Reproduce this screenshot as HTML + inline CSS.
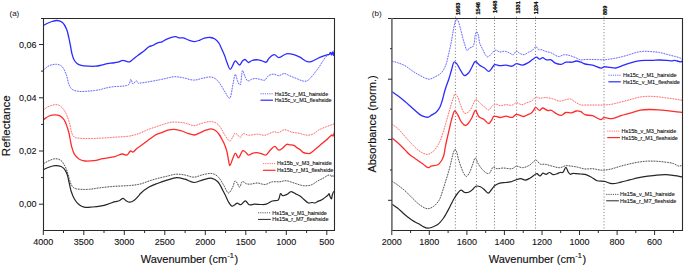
<!DOCTYPE html>
<html><head><meta charset="utf-8"><style>
html,body{margin:0;padding:0;background:#fff;}
body{width:685px;height:267px;overflow:hidden;}
svg{display:block;font-family:"Liberation Sans",sans-serif;}
.tk{font-size:9.35px;fill:#111;stroke:#111;stroke-width:0.1px;}
.ti{font-size:11px;fill:#111;stroke:#111;stroke-width:0.15px;}
.pl{font-size:8px;fill:#111;}
.lg{font-size:5.5px;fill:#111;stroke:#111;stroke-width:0.12px;}
.pk{font-size:5.6px;font-weight:bold;fill:#000;stroke:#000;stroke-width:0.2px;}
</style></head><body>
<svg width="685" height="267" viewBox="0 0 685 267">
<clipPath id="cl"><rect x="43" y="18" width="292" height="213"/></clipPath>
<clipPath id="cr"><rect x="392" y="18" width="291" height="213"/></clipPath>
<g clip-path="url(#cl)">
<path d="M43.50,70.00 C45.33,68.60 46.90,66.75 49.00,65.80 C51.21,64.80 54.25,64.13 56.50,64.30 C58.41,64.45 60.22,64.92 61.70,66.20 C63.63,67.87 64.97,71.50 66.20,74.50 C67.52,77.73 67.95,82.32 69.20,85.00 C70.08,86.87 70.76,88.35 72.20,89.40 C73.85,90.61 76.39,91.08 78.90,91.40 C81.98,91.79 85.91,91.28 89.40,91.00 C92.91,90.72 97.20,90.25 99.90,89.70 C101.63,89.35 102.45,88.90 104.10,88.50 C106.39,87.94 109.40,87.21 112.40,86.80 C115.88,86.32 120.78,86.54 123.80,86.00 C125.86,85.63 127.72,85.59 128.90,84.50 C130.11,83.38 130.20,79.32 130.90,79.30 C131.57,79.28 132.06,83.82 133.00,84.00 C133.89,84.17 135.36,80.74 136.30,80.80 C137.08,80.85 137.57,83.00 138.30,83.30 C138.83,83.52 139.23,83.20 140.00,83.10 C141.60,82.89 144.64,82.46 147.40,82.00 C150.94,81.41 155.95,80.50 159.50,79.80 C162.30,79.25 164.51,78.72 167.00,78.20 C169.47,77.69 171.80,76.80 174.40,76.70 C177.24,76.59 180.30,77.27 183.40,77.80 C186.78,78.38 190.53,80.09 193.90,80.10 C197.01,80.11 200.02,78.73 202.90,78.20 C205.53,77.71 208.29,76.81 210.50,77.00 C212.28,77.15 213.72,77.64 215.20,78.60 C217.00,79.77 218.63,81.90 220.20,84.00 C222.03,86.43 223.61,89.97 225.30,92.50 C226.74,94.66 228.44,98.54 229.60,98.30 C231.23,97.97 231.89,88.74 232.90,84.50 C233.76,80.87 234.40,74.44 235.30,74.40 C236.09,74.36 236.91,80.10 237.90,82.00 C238.58,83.29 239.47,85.15 240.10,85.00 C241.35,84.71 241.54,70.61 242.60,70.50 C243.30,70.43 244.08,74.68 245.00,76.50 C245.83,78.15 246.64,80.64 247.80,81.00 C248.77,81.30 250.02,79.91 251.20,79.50 C252.42,79.08 253.67,78.57 255.00,78.50 C256.43,78.43 257.95,78.93 259.50,79.20 C261.17,79.49 263.24,80.73 264.70,80.20 C266.23,79.65 266.87,76.70 268.40,75.70 C269.89,74.73 271.94,74.20 273.70,74.20 C275.44,74.20 277.18,75.80 278.90,75.70 C280.68,75.60 282.44,73.49 284.20,73.50 C285.94,73.51 287.50,74.92 289.40,75.70 C291.67,76.63 294.54,77.77 296.90,78.70 C299.01,79.53 301.11,80.67 302.90,81.00 C304.26,81.25 305.43,81.41 306.60,81.00 C307.94,80.53 309.14,79.22 310.40,78.00 C311.91,76.54 313.44,74.55 314.90,72.70 C316.41,70.79 317.92,68.72 319.30,66.70 C320.65,64.72 321.79,62.55 323.10,60.70 C324.30,59.00 325.37,57.22 326.80,56.00 C328.13,54.87 329.95,53.98 331.30,53.50 C332.28,53.15 333.10,53.17 334.00,53.00" fill="none" stroke="#6c6cff" stroke-width="1.00" stroke-opacity="0.25" stroke-linejoin="round"/><path d="M43.50,70.00 C45.33,68.60 46.90,66.75 49.00,65.80 C51.21,64.80 54.25,64.13 56.50,64.30 C58.41,64.45 60.22,64.92 61.70,66.20 C63.63,67.87 64.97,71.50 66.20,74.50 C67.52,77.73 67.95,82.32 69.20,85.00 C70.08,86.87 70.76,88.35 72.20,89.40 C73.85,90.61 76.39,91.08 78.90,91.40 C81.98,91.79 85.91,91.28 89.40,91.00 C92.91,90.72 97.20,90.25 99.90,89.70 C101.63,89.35 102.45,88.90 104.10,88.50 C106.39,87.94 109.40,87.21 112.40,86.80 C115.88,86.32 120.78,86.54 123.80,86.00 C125.86,85.63 127.72,85.59 128.90,84.50 C130.11,83.38 130.20,79.32 130.90,79.30 C131.57,79.28 132.06,83.82 133.00,84.00 C133.89,84.17 135.36,80.74 136.30,80.80 C137.08,80.85 137.57,83.00 138.30,83.30 C138.83,83.52 139.23,83.20 140.00,83.10 C141.60,82.89 144.64,82.46 147.40,82.00 C150.94,81.41 155.95,80.50 159.50,79.80 C162.30,79.25 164.51,78.72 167.00,78.20 C169.47,77.69 171.80,76.80 174.40,76.70 C177.24,76.59 180.30,77.27 183.40,77.80 C186.78,78.38 190.53,80.09 193.90,80.10 C197.01,80.11 200.02,78.73 202.90,78.20 C205.53,77.71 208.29,76.81 210.50,77.00 C212.28,77.15 213.72,77.64 215.20,78.60 C217.00,79.77 218.63,81.90 220.20,84.00 C222.03,86.43 223.61,89.97 225.30,92.50 C226.74,94.66 228.44,98.54 229.60,98.30 C231.23,97.97 231.89,88.74 232.90,84.50 C233.76,80.87 234.40,74.44 235.30,74.40 C236.09,74.36 236.91,80.10 237.90,82.00 C238.58,83.29 239.47,85.15 240.10,85.00 C241.35,84.71 241.54,70.61 242.60,70.50 C243.30,70.43 244.08,74.68 245.00,76.50 C245.83,78.15 246.64,80.64 247.80,81.00 C248.77,81.30 250.02,79.91 251.20,79.50 C252.42,79.08 253.67,78.57 255.00,78.50 C256.43,78.43 257.95,78.93 259.50,79.20 C261.17,79.49 263.24,80.73 264.70,80.20 C266.23,79.65 266.87,76.70 268.40,75.70 C269.89,74.73 271.94,74.20 273.70,74.20 C275.44,74.20 277.18,75.80 278.90,75.70 C280.68,75.60 282.44,73.49 284.20,73.50 C285.94,73.51 287.50,74.92 289.40,75.70 C291.67,76.63 294.54,77.77 296.90,78.70 C299.01,79.53 301.11,80.67 302.90,81.00 C304.26,81.25 305.43,81.41 306.60,81.00 C307.94,80.53 309.14,79.22 310.40,78.00 C311.91,76.54 313.44,74.55 314.90,72.70 C316.41,70.79 317.92,68.72 319.30,66.70 C320.65,64.72 321.79,62.55 323.10,60.70 C324.30,59.00 325.37,57.22 326.80,56.00 C328.13,54.87 329.95,53.98 331.30,53.50 C332.28,53.15 333.10,53.17 334.00,53.00" fill="none" stroke="#6c6cff" stroke-width="1.00" stroke-dasharray="1.5 1.2" stroke-linejoin="round"/>
<path d="M43.70,25.30 C44.80,24.70 45.77,24.08 47.00,23.50 C48.48,22.81 50.29,22.00 52.00,21.50 C53.69,21.00 55.48,20.35 57.20,20.50 C58.98,20.65 61.01,21.27 62.50,22.50 C64.25,23.95 65.56,26.76 66.60,29.20 C67.69,31.77 68.15,34.80 68.80,37.60 C69.45,40.37 69.97,43.19 70.50,45.90 C71.00,48.49 71.28,51.11 71.90,53.50 C72.47,55.72 73.03,58.06 74.00,59.80 C74.81,61.26 75.80,62.47 77.00,63.40 C78.20,64.33 79.52,64.93 81.20,65.40 C83.44,66.02 86.88,66.08 89.40,66.20 C91.55,66.30 93.54,66.34 95.40,66.20 C97.04,66.08 98.29,65.84 100.00,65.50 C102.18,65.07 105.22,64.13 107.40,63.70 C109.11,63.36 110.36,63.23 112.00,63.00 C113.87,62.73 116.15,62.67 118.00,62.20 C119.69,61.77 121.20,60.48 122.70,60.40 C124.02,60.33 125.30,61.16 126.50,61.40 C127.55,61.61 128.51,62.05 129.50,61.80 C130.68,61.51 131.74,60.26 133.00,59.30 C134.56,58.12 136.30,56.58 138.10,55.20 C140.05,53.71 142.40,52.19 144.30,50.70 C146.00,49.36 147.44,47.57 149.00,46.70 C150.24,46.01 151.49,46.04 152.70,45.50 C153.99,44.93 155.05,43.92 156.50,43.30 C158.23,42.57 160.79,42.36 162.50,41.60 C163.93,40.97 164.93,39.94 166.20,39.30 C167.43,38.68 168.57,38.21 170.00,37.80 C171.73,37.30 174.28,36.56 175.90,36.70 C177.08,36.80 177.78,37.59 178.90,37.80 C180.23,38.05 181.83,37.57 183.40,37.90 C185.29,38.30 187.45,39.77 189.40,40.40 C191.17,40.97 192.86,41.64 194.60,41.60 C196.36,41.56 198.22,40.69 199.90,40.10 C201.48,39.55 202.76,38.63 204.40,38.20 C206.23,37.72 208.56,37.31 210.40,37.50 C212.03,37.67 213.56,38.17 214.90,39.00 C216.31,39.87 217.53,41.22 218.60,42.70 C219.81,44.38 220.62,46.63 221.60,48.70 C222.63,50.88 223.70,53.19 224.60,55.50 C225.50,57.82 226.06,60.29 227.00,62.60 C227.93,64.89 229.12,69.23 230.20,69.30 C231.09,69.36 232.04,66.51 232.90,65.10 C233.74,63.71 234.27,61.05 235.30,60.90 C236.45,60.73 238.36,65.11 239.60,65.00 C240.73,64.90 241.47,61.95 242.50,61.00 C243.29,60.27 244.12,59.43 245.00,59.50 C246.10,59.59 247.29,62.39 248.50,62.50 C249.63,62.61 250.62,60.95 252.00,60.50 C253.69,59.95 256.16,59.67 258.00,59.80 C259.62,59.92 261.08,60.58 262.50,61.00 C263.80,61.38 265.14,62.55 266.20,62.20 C267.43,61.80 267.92,59.21 269.20,58.00 C270.60,56.68 272.74,54.68 274.40,54.70 C275.96,54.72 277.18,57.61 278.90,57.70 C281.05,57.82 283.83,54.27 286.40,53.80 C288.83,53.36 291.58,54.09 293.90,54.70 C296.05,55.27 297.83,56.15 299.90,57.20 C302.30,58.41 305.14,61.18 307.40,61.70 C309.02,62.07 310.26,61.75 311.90,61.30 C314.11,60.69 316.80,58.79 319.30,57.70 C321.77,56.62 325.02,55.26 326.80,54.80 C327.73,54.56 328.39,54.86 329.00,54.50 C329.64,54.12 330.09,52.45 330.50,52.50 C330.93,52.56 331.18,55.01 331.50,55.00 C331.85,54.99 332.18,51.99 332.50,52.00 C332.85,52.01 333.20,55.52 333.50,55.50 C333.88,55.48 334.17,51.83 334.50,50.00" fill="none" stroke="#2b2bff" stroke-width="1.30" stroke-linejoin="round" stroke-linecap="round"/>
<path d="M43.50,110.00 C44.83,109.00 45.87,107.83 47.50,107.00 C49.54,105.96 52.80,104.83 55.00,104.70 C56.68,104.60 58.10,104.77 59.50,105.50 C61.15,106.36 62.70,108.18 64.00,110.00 C65.49,112.08 66.69,114.96 67.70,117.50 C68.68,119.96 69.40,122.63 70.00,125.00 C70.53,127.10 70.67,129.16 71.20,131.00 C71.67,132.63 72.08,134.34 72.90,135.50 C73.59,136.47 74.50,137.25 75.50,137.70 C76.50,138.15 77.60,138.07 78.90,138.20 C80.61,138.37 82.45,138.46 84.90,138.50 C88.77,138.56 94.90,138.42 99.90,138.20 C104.90,137.98 109.91,137.57 114.90,137.20 C119.88,136.83 125.34,136.79 129.80,136.00 C133.56,135.34 136.90,134.34 140.00,133.20 C142.74,132.19 144.97,130.71 147.50,129.70 C149.97,128.71 152.50,128.05 155.00,127.20 C157.50,126.35 159.88,125.41 162.50,124.60 C165.33,123.73 168.40,122.56 171.40,122.20 C174.37,121.84 177.71,122.15 180.40,122.40 C182.61,122.61 184.31,122.91 186.40,123.40 C188.78,123.96 191.40,125.70 193.90,125.70 C196.40,125.70 198.77,124.06 201.40,123.40 C204.25,122.68 207.72,121.53 210.40,121.60 C212.58,121.66 214.59,122.09 216.30,123.10 C218.08,124.15 219.47,126.08 220.80,127.90 C222.23,129.85 223.05,132.37 224.50,134.50 C226.03,136.74 228.30,141.03 229.80,141.00 C230.96,140.98 231.91,138.34 232.80,137.00 C233.63,135.74 234.07,133.42 235.00,133.20 C235.84,133.00 237.11,134.46 238.00,135.20 C238.83,135.90 239.43,137.54 240.20,137.50 C241.15,137.46 241.88,134.13 243.20,133.70 C244.61,133.24 246.48,135.03 248.50,135.20 C251.09,135.41 254.65,134.17 257.50,134.20 C260.09,134.23 262.35,135.49 264.90,135.20 C267.79,134.87 271.39,132.01 273.90,131.80 C275.63,131.66 276.83,132.91 278.40,132.70 C280.30,132.45 282.25,129.85 284.40,129.70 C286.73,129.53 289.37,131.60 291.90,132.20 C294.37,132.79 296.91,132.80 299.40,133.30 C301.91,133.80 304.54,135.11 306.90,135.20 C308.98,135.28 310.91,134.98 312.80,134.20 C314.89,133.34 316.62,131.23 318.80,130.00 C321.10,128.70 323.76,127.70 326.30,126.70 C328.83,125.70 331.43,124.90 334.00,124.00" fill="none" stroke="#ff7272" stroke-width="1.00" stroke-opacity="0.25" stroke-linejoin="round"/><path d="M43.50,110.00 C44.83,109.00 45.87,107.83 47.50,107.00 C49.54,105.96 52.80,104.83 55.00,104.70 C56.68,104.60 58.10,104.77 59.50,105.50 C61.15,106.36 62.70,108.18 64.00,110.00 C65.49,112.08 66.69,114.96 67.70,117.50 C68.68,119.96 69.40,122.63 70.00,125.00 C70.53,127.10 70.67,129.16 71.20,131.00 C71.67,132.63 72.08,134.34 72.90,135.50 C73.59,136.47 74.50,137.25 75.50,137.70 C76.50,138.15 77.60,138.07 78.90,138.20 C80.61,138.37 82.45,138.46 84.90,138.50 C88.77,138.56 94.90,138.42 99.90,138.20 C104.90,137.98 109.91,137.57 114.90,137.20 C119.88,136.83 125.34,136.79 129.80,136.00 C133.56,135.34 136.90,134.34 140.00,133.20 C142.74,132.19 144.97,130.71 147.50,129.70 C149.97,128.71 152.50,128.05 155.00,127.20 C157.50,126.35 159.88,125.41 162.50,124.60 C165.33,123.73 168.40,122.56 171.40,122.20 C174.37,121.84 177.71,122.15 180.40,122.40 C182.61,122.61 184.31,122.91 186.40,123.40 C188.78,123.96 191.40,125.70 193.90,125.70 C196.40,125.70 198.77,124.06 201.40,123.40 C204.25,122.68 207.72,121.53 210.40,121.60 C212.58,121.66 214.59,122.09 216.30,123.10 C218.08,124.15 219.47,126.08 220.80,127.90 C222.23,129.85 223.05,132.37 224.50,134.50 C226.03,136.74 228.30,141.03 229.80,141.00 C230.96,140.98 231.91,138.34 232.80,137.00 C233.63,135.74 234.07,133.42 235.00,133.20 C235.84,133.00 237.11,134.46 238.00,135.20 C238.83,135.90 239.43,137.54 240.20,137.50 C241.15,137.46 241.88,134.13 243.20,133.70 C244.61,133.24 246.48,135.03 248.50,135.20 C251.09,135.41 254.65,134.17 257.50,134.20 C260.09,134.23 262.35,135.49 264.90,135.20 C267.79,134.87 271.39,132.01 273.90,131.80 C275.63,131.66 276.83,132.91 278.40,132.70 C280.30,132.45 282.25,129.85 284.40,129.70 C286.73,129.53 289.37,131.60 291.90,132.20 C294.37,132.79 296.91,132.80 299.40,133.30 C301.91,133.80 304.54,135.11 306.90,135.20 C308.98,135.28 310.91,134.98 312.80,134.20 C314.89,133.34 316.62,131.23 318.80,130.00 C321.10,128.70 323.76,127.70 326.30,126.70 C328.83,125.70 331.43,124.90 334.00,124.00" fill="none" stroke="#ff7272" stroke-width="1.00" stroke-dasharray="1.5 1.2" stroke-linejoin="round"/>
<path d="M43.50,119.70 C45.33,118.47 47.04,116.82 49.00,116.00 C50.88,115.22 53.14,114.80 55.00,114.80 C56.61,114.80 58.09,115.00 59.50,115.70 C61.12,116.50 62.78,118.04 64.00,119.70 C65.34,121.53 66.14,124.07 67.00,126.40 C67.89,128.82 68.65,131.66 69.20,134.00 C69.66,135.97 69.83,137.56 70.20,139.50 C70.62,141.69 70.94,144.14 71.60,146.50 C72.31,149.03 73.08,152.05 74.40,154.20 C75.59,156.13 77.13,157.86 78.90,159.00 C80.64,160.11 82.67,160.68 84.90,161.00 C87.57,161.39 90.92,161.08 93.90,160.70 C96.92,160.32 99.68,159.34 102.90,158.70 C106.61,157.96 111.41,157.51 114.90,156.60 C117.70,155.87 120.12,154.11 122.30,154.00 C123.97,153.92 125.47,155.50 126.80,155.10 C128.27,154.66 129.44,151.19 130.60,151.00 C131.38,150.87 132.01,152.30 132.80,152.20 C133.94,152.06 135.34,149.72 136.60,148.70 C137.74,147.78 138.79,147.17 140.00,146.30 C141.40,145.29 142.90,144.19 144.50,143.00 C146.36,141.62 148.49,139.96 150.50,138.50 C152.49,137.06 154.42,135.35 156.50,134.30 C158.43,133.33 160.58,133.01 162.50,132.30 C164.31,131.64 165.82,130.70 167.70,130.20 C169.76,129.65 172.11,129.20 174.40,129.30 C176.84,129.41 179.55,130.28 181.90,131.00 C184.07,131.67 185.91,132.74 188.00,133.40 C190.11,134.07 192.46,135.15 194.50,135.00 C196.41,134.86 198.06,133.57 199.90,132.80 C201.85,131.98 203.95,130.88 205.90,130.20 C207.67,129.58 209.45,128.71 211.10,128.80 C212.64,128.88 214.17,129.58 215.50,130.50 C217.01,131.54 218.39,133.44 219.50,135.00 C220.53,136.45 221.22,138.07 222.00,139.50 C222.71,140.79 223.33,141.69 224.00,143.20 C224.97,145.39 226.15,148.69 226.90,151.50 C227.65,154.29 227.97,157.47 228.50,160.00 C228.93,162.07 229.17,165.55 229.80,165.60 C230.53,165.66 231.81,160.68 232.80,158.50 C233.67,156.59 234.43,153.27 235.40,153.20 C236.34,153.14 237.41,157.83 238.50,157.80 C239.82,157.76 241.32,151.20 242.70,150.70 C243.44,150.44 244.12,151.01 244.90,151.50 C246.07,152.23 247.37,155.00 248.70,155.20 C249.88,155.38 251.07,153.72 252.40,153.30 C253.79,152.86 255.41,152.64 256.90,152.70 C258.41,152.76 259.91,153.32 261.40,153.70 C262.91,154.08 264.51,155.40 265.90,155.00 C267.56,154.52 268.86,151.49 270.40,150.00 C271.83,148.62 273.39,146.25 274.80,146.30 C276.19,146.35 277.42,149.99 278.80,150.20 C279.99,150.38 281.28,149.16 282.50,148.30 C283.95,147.28 285.36,144.74 286.80,144.30 C287.87,143.97 288.87,144.64 290.00,144.80 C291.26,144.98 292.83,144.79 294.00,145.30 C295.15,145.80 295.97,147.09 297.00,147.80 C297.97,148.47 299.04,148.78 300.00,149.50 C301.05,150.29 301.83,151.75 303.00,152.40 C304.16,153.05 305.75,153.25 307.00,153.40 C308.06,153.53 309.05,153.71 310.00,153.40 C311.06,153.05 311.89,152.07 313.00,151.20 C314.47,150.04 316.43,148.33 318.00,147.00 C319.41,145.81 320.66,144.72 322.00,143.60 C323.33,142.49 324.69,141.46 326.00,140.30 C327.35,139.10 328.87,137.45 330.00,136.50 C330.76,135.86 331.46,134.96 332.00,135.00 C332.41,135.03 332.68,136.07 333.00,136.00 C333.55,135.88 334.00,133.33 334.50,132.00" fill="none" stroke="#ff2b2b" stroke-width="1.30" stroke-linejoin="round" stroke-linecap="round"/>
<path d="M43.50,163.70 C45.33,162.70 47.03,161.52 49.00,160.70 C51.08,159.83 53.60,158.66 55.70,158.70 C57.58,158.74 59.60,159.48 61.00,160.50 C62.33,161.46 63.10,163.05 64.00,164.50 C64.95,166.03 65.73,167.55 66.50,169.50 C67.50,172.03 68.32,175.75 69.20,178.50 C69.95,180.85 70.38,183.30 71.40,185.00 C72.22,186.36 73.08,187.48 74.40,188.20 C75.96,189.05 78.19,189.10 80.40,189.30 C83.09,189.54 86.29,189.52 89.40,189.30 C92.77,189.06 96.08,188.26 99.90,187.80 C104.45,187.25 109.90,186.68 114.90,186.30 C119.87,185.92 125.31,185.93 129.80,185.50 C133.53,185.14 136.74,184.88 140.00,184.10 C143.13,183.35 145.99,181.97 149.00,181.00 C151.99,180.04 154.99,179.10 158.00,178.30 C160.99,177.50 164.01,176.89 167.00,176.20 C169.97,175.52 172.91,174.40 175.90,174.20 C178.88,174.00 181.92,174.51 184.90,175.00 C187.92,175.50 190.91,177.25 193.90,177.20 C196.91,177.15 199.88,175.32 202.90,174.70 C205.88,174.09 209.28,173.05 211.90,173.50 C214.14,173.88 216.01,174.92 217.80,176.50 C220.08,178.52 221.95,182.53 223.80,185.40 C225.49,188.02 226.93,192.95 228.50,193.00 C229.93,193.05 231.70,189.08 232.80,187.00 C233.82,185.07 234.06,181.23 235.00,181.00 C235.64,180.84 236.52,182.14 237.20,183.00 C238.06,184.09 238.69,187.21 239.50,187.20 C240.44,187.19 241.22,181.86 242.50,181.50 C243.55,181.20 244.91,183.25 246.20,183.70 C247.42,184.12 248.52,184.22 250.00,184.20 C252.08,184.17 255.01,182.95 257.50,183.00 C259.98,183.05 262.45,184.68 264.90,184.50 C267.42,184.32 269.86,182.24 272.40,181.80 C274.86,181.37 277.55,182.01 279.90,181.80 C282.02,181.61 283.71,180.59 285.90,180.70 C288.61,180.84 291.93,182.46 294.90,183.30 C297.80,184.12 300.67,185.46 303.50,185.70 C306.17,185.93 309.05,185.70 311.40,184.90 C313.58,184.16 315.24,182.41 317.20,181.30 C319.11,180.21 321.16,179.32 323.00,178.30 C324.72,177.35 326.50,175.91 327.90,175.40 C328.84,175.06 329.80,174.70 330.40,175.00 C330.97,175.28 331.13,176.98 331.50,177.00 C331.83,177.01 332.08,175.58 332.50,175.50 C332.92,175.42 333.50,176.17 334.00,176.50" fill="none" stroke="#5a5a5a" stroke-width="1.00" stroke-opacity="0.25" stroke-linejoin="round"/><path d="M43.50,163.70 C45.33,162.70 47.03,161.52 49.00,160.70 C51.08,159.83 53.60,158.66 55.70,158.70 C57.58,158.74 59.60,159.48 61.00,160.50 C62.33,161.46 63.10,163.05 64.00,164.50 C64.95,166.03 65.73,167.55 66.50,169.50 C67.50,172.03 68.32,175.75 69.20,178.50 C69.95,180.85 70.38,183.30 71.40,185.00 C72.22,186.36 73.08,187.48 74.40,188.20 C75.96,189.05 78.19,189.10 80.40,189.30 C83.09,189.54 86.29,189.52 89.40,189.30 C92.77,189.06 96.08,188.26 99.90,187.80 C104.45,187.25 109.90,186.68 114.90,186.30 C119.87,185.92 125.31,185.93 129.80,185.50 C133.53,185.14 136.74,184.88 140.00,184.10 C143.13,183.35 145.99,181.97 149.00,181.00 C151.99,180.04 154.99,179.10 158.00,178.30 C160.99,177.50 164.01,176.89 167.00,176.20 C169.97,175.52 172.91,174.40 175.90,174.20 C178.88,174.00 181.92,174.51 184.90,175.00 C187.92,175.50 190.91,177.25 193.90,177.20 C196.91,177.15 199.88,175.32 202.90,174.70 C205.88,174.09 209.28,173.05 211.90,173.50 C214.14,173.88 216.01,174.92 217.80,176.50 C220.08,178.52 221.95,182.53 223.80,185.40 C225.49,188.02 226.93,192.95 228.50,193.00 C229.93,193.05 231.70,189.08 232.80,187.00 C233.82,185.07 234.06,181.23 235.00,181.00 C235.64,180.84 236.52,182.14 237.20,183.00 C238.06,184.09 238.69,187.21 239.50,187.20 C240.44,187.19 241.22,181.86 242.50,181.50 C243.55,181.20 244.91,183.25 246.20,183.70 C247.42,184.12 248.52,184.22 250.00,184.20 C252.08,184.17 255.01,182.95 257.50,183.00 C259.98,183.05 262.45,184.68 264.90,184.50 C267.42,184.32 269.86,182.24 272.40,181.80 C274.86,181.37 277.55,182.01 279.90,181.80 C282.02,181.61 283.71,180.59 285.90,180.70 C288.61,180.84 291.93,182.46 294.90,183.30 C297.80,184.12 300.67,185.46 303.50,185.70 C306.17,185.93 309.05,185.70 311.40,184.90 C313.58,184.16 315.24,182.41 317.20,181.30 C319.11,180.21 321.16,179.32 323.00,178.30 C324.72,177.35 326.50,175.91 327.90,175.40 C328.84,175.06 329.80,174.70 330.40,175.00 C330.97,175.28 331.13,176.98 331.50,177.00 C331.83,177.01 332.08,175.58 332.50,175.50 C332.92,175.42 333.50,176.17 334.00,176.50" fill="none" stroke="#5a5a5a" stroke-width="1.00" stroke-dasharray="1.5 1.2" stroke-linejoin="round"/>
<path d="M43.50,169.50 C45.33,168.73 47.10,167.83 49.00,167.20 C50.93,166.56 52.99,165.81 55.00,165.70 C56.99,165.59 59.41,165.86 61.00,166.50 C62.25,167.00 63.10,167.68 64.00,168.70 C65.16,170.00 66.18,171.94 67.00,174.00 C68.01,176.55 68.47,180.00 69.20,183.00 C69.93,186.00 70.47,189.22 71.40,192.00 C72.24,194.52 73.12,196.89 74.40,199.00 C75.64,201.04 77.17,203.11 78.90,204.50 C80.48,205.77 82.18,206.74 84.20,207.20 C86.58,207.74 89.61,207.22 92.40,207.00 C95.34,206.77 98.72,206.31 101.40,205.80 C103.62,205.38 105.30,204.92 107.40,204.30 C109.78,203.59 112.72,202.32 114.90,201.70 C116.55,201.23 117.93,201.27 119.30,200.70 C120.67,200.13 121.93,198.23 123.10,198.30 C124.18,198.36 125.00,200.05 126.10,200.70 C127.23,201.36 128.51,202.22 129.80,202.20 C131.23,202.18 132.88,201.17 134.30,200.20 C135.91,199.09 137.81,196.88 138.80,195.70 C139.37,195.03 139.34,194.70 140.00,194.00 C141.55,192.37 145.87,188.83 149.00,187.00 C151.89,185.30 154.98,184.34 158.00,183.20 C160.98,182.08 163.93,181.11 167.00,180.20 C170.16,179.27 173.59,177.81 176.70,177.70 C179.54,177.60 182.08,178.47 184.90,179.20 C188.03,180.01 191.49,182.48 194.60,182.50 C197.47,182.52 200.05,180.50 202.90,179.80 C205.81,179.09 209.29,177.83 211.90,178.30 C214.16,178.71 216.09,180.00 217.80,181.70 C219.89,183.78 221.46,187.83 222.90,190.50 C224.07,192.67 224.91,194.48 225.90,196.50 C226.91,198.55 227.78,200.99 228.90,202.70 C229.82,204.10 230.81,205.98 231.90,206.20 C232.83,206.39 233.98,205.23 234.90,204.70 C235.73,204.22 236.32,203.29 237.20,203.20 C238.26,203.10 239.67,204.90 240.90,204.70 C242.40,204.45 244.01,200.72 245.40,200.80 C246.73,200.87 247.59,204.24 249.10,204.80 C250.59,205.36 252.58,204.26 254.40,204.20 C256.34,204.14 258.41,204.50 260.40,204.50 C262.37,204.50 264.38,204.73 266.30,204.20 C268.36,203.63 270.24,201.70 272.30,201.00 C274.25,200.34 276.92,201.15 278.30,200.00 C279.75,198.80 279.63,193.94 280.60,193.70 C281.24,193.54 281.87,195.50 282.80,195.70 C283.98,195.95 285.91,194.89 287.30,194.20 C288.67,193.52 289.70,191.70 291.10,191.60 C292.69,191.49 294.80,193.41 296.40,194.20 C297.72,194.85 298.84,195.23 300.00,196.00 C301.28,196.85 302.38,198.10 303.70,199.20 C305.16,200.42 306.82,202.55 308.40,203.00 C309.66,203.35 311.03,202.47 312.20,202.50 C313.21,202.52 314.09,203.16 315.00,203.00 C315.96,202.83 316.85,201.84 317.80,201.40 C318.72,200.98 319.69,200.83 320.60,200.40 C321.56,199.94 322.52,199.30 323.40,198.70 C324.25,198.13 325.02,197.52 325.80,196.90 C326.58,196.28 327.52,195.62 328.10,195.00 C328.54,194.53 328.81,193.56 329.10,193.60 C329.48,193.66 329.62,195.50 330.00,196.40 C330.38,197.30 331.03,199.05 331.40,199.00 C331.84,198.94 331.95,196.21 332.30,195.00 C332.60,193.97 332.85,192.90 333.30,192.20 C333.64,191.67 334.10,191.40 334.50,191.00" fill="none" stroke="#262626" stroke-width="1.20" stroke-linejoin="round" stroke-linecap="round"/>
</g>
<path d="M41,18.5 H334.5 V230.5 H43.5 V18.5" fill="none" stroke="#2a2a2a" stroke-width="1.1"/>
<line x1="39" y1="44.5" x2="43.5" y2="44.5" stroke="#2a2a2a" stroke-width="1"/>
<text transform="translate(36.5,47.70) scale(0.965,1)" text-anchor="end" class="tk">0,06</text>
<line x1="39" y1="97.8" x2="43.5" y2="97.8" stroke="#2a2a2a" stroke-width="1"/>
<text transform="translate(36.5,101.00) scale(0.965,1)" text-anchor="end" class="tk">0,04</text>
<line x1="39" y1="151.0" x2="43.5" y2="151.0" stroke="#2a2a2a" stroke-width="1"/>
<text transform="translate(36.5,154.20) scale(0.965,1)" text-anchor="end" class="tk">0,02</text>
<line x1="39" y1="204.2" x2="43.5" y2="204.2" stroke="#2a2a2a" stroke-width="1"/>
<text transform="translate(36.5,207.40) scale(0.965,1)" text-anchor="end" class="tk">0,00</text>
<line x1="41" y1="71.1" x2="43.5" y2="71.1" stroke="#2a2a2a" stroke-width="1"/>
<line x1="41" y1="124.4" x2="43.5" y2="124.4" stroke="#2a2a2a" stroke-width="1"/>
<line x1="41" y1="177.6" x2="43.5" y2="177.6" stroke="#2a2a2a" stroke-width="1"/>
<line x1="43.3" y1="230.5" x2="43.3" y2="235.0" stroke="#2a2a2a" stroke-width="1"/>
<text transform="translate(43.30,244.6) scale(0.965,1)" text-anchor="middle" class="tk">4000</text>
<line x1="63.5" y1="230.5" x2="63.5" y2="233.0" stroke="#2a2a2a" stroke-width="1"/>
<line x1="83.8" y1="230.5" x2="83.8" y2="235.0" stroke="#2a2a2a" stroke-width="1"/>
<text transform="translate(83.80,244.6) scale(0.965,1)" text-anchor="middle" class="tk">3500</text>
<line x1="104.0" y1="230.5" x2="104.0" y2="233.0" stroke="#2a2a2a" stroke-width="1"/>
<line x1="124.3" y1="230.5" x2="124.3" y2="235.0" stroke="#2a2a2a" stroke-width="1"/>
<text transform="translate(124.30,244.6) scale(0.965,1)" text-anchor="middle" class="tk">3000</text>
<line x1="144.6" y1="230.5" x2="144.6" y2="233.0" stroke="#2a2a2a" stroke-width="1"/>
<line x1="164.8" y1="230.5" x2="164.8" y2="235.0" stroke="#2a2a2a" stroke-width="1"/>
<text transform="translate(164.80,244.6) scale(0.965,1)" text-anchor="middle" class="tk">2500</text>
<line x1="185.1" y1="230.5" x2="185.1" y2="233.0" stroke="#2a2a2a" stroke-width="1"/>
<line x1="205.3" y1="230.5" x2="205.3" y2="235.0" stroke="#2a2a2a" stroke-width="1"/>
<text transform="translate(205.30,244.6) scale(0.965,1)" text-anchor="middle" class="tk">2000</text>
<line x1="225.6" y1="230.5" x2="225.6" y2="233.0" stroke="#2a2a2a" stroke-width="1"/>
<line x1="245.8" y1="230.5" x2="245.8" y2="235.0" stroke="#2a2a2a" stroke-width="1"/>
<text transform="translate(245.80,244.6) scale(0.965,1)" text-anchor="middle" class="tk">1500</text>
<line x1="266.1" y1="230.5" x2="266.1" y2="233.0" stroke="#2a2a2a" stroke-width="1"/>
<line x1="286.3" y1="230.5" x2="286.3" y2="235.0" stroke="#2a2a2a" stroke-width="1"/>
<text transform="translate(286.30,244.6) scale(0.965,1)" text-anchor="middle" class="tk">1000</text>
<line x1="306.6" y1="230.5" x2="306.6" y2="233.0" stroke="#2a2a2a" stroke-width="1"/>
<line x1="326.8" y1="230.5" x2="326.8" y2="235.0" stroke="#2a2a2a" stroke-width="1"/>
<text transform="translate(326.80,244.6) scale(0.965,1)" text-anchor="middle" class="tk">500</text>
<text x="9.5" y="15.8" class="pl">(a)</text>
<text x="189.5" y="262.5" text-anchor="middle" class="ti">Wavenumber (cm<tspan dy="-4.2" font-size="7.5">-1</tspan><tspan dy="4.2" dx="0.7">)</tspan></text>
<text transform="translate(9.9,125.8) rotate(-90)" text-anchor="middle" class="ti" style="font-size:11.5px">Reflectance</text>
<line x1="260.5" y1="93.8" x2="273.0" y2="93.8" stroke="#6c6cff" stroke-width="1" stroke-dasharray="1.2 1.0"/>
<text x="274.7" y="95.8" class="lg">Hs15c_r_M1_hairside</text>
<line x1="260.5" y1="100.2" x2="273.0" y2="100.2" stroke="#2b2bff" stroke-width="1.2"/>
<text x="274.7" y="102.2" class="lg">Hs15c_v_M1_fleshside</text>
<line x1="263.0" y1="163.6" x2="275.6" y2="163.6" stroke="#ff7272" stroke-width="1" stroke-dasharray="1.2 1.0"/>
<text x="277.0" y="165.0" class="lg">Hs15b_v_M3_hairside</text>
<line x1="263.0" y1="170.3" x2="275.6" y2="170.3" stroke="#ff2b2b" stroke-width="1.2"/>
<text x="277.0" y="172.3" class="lg">Hs15b_r_M1_fleshside</text>
<line x1="258.0" y1="212.8" x2="270.8" y2="212.8" stroke="#5a5a5a" stroke-width="1" stroke-dasharray="1.2 1.0"/>
<text x="272.2" y="214.8" class="lg">Hs15a_v_M1_hairside</text>
<line x1="258.0" y1="219.4" x2="270.8" y2="219.4" stroke="#262626" stroke-width="1.0"/>
<text x="272.2" y="221.4" class="lg">Hs15a_r_M7_fleshside</text>
<line x1="455.4" y1="16.7" x2="455.4" y2="230" stroke="#666" stroke-width="0.9" stroke-dasharray="1 2.1"/>
<text transform="translate(460.0,15.0) rotate(-90)" class="pk">1663</text>
<line x1="476.4" y1="16.7" x2="476.4" y2="230" stroke="#666" stroke-width="0.9" stroke-dasharray="1 2.1"/>
<text transform="translate(479.8,14.5) rotate(-90)" class="pk">1546</text>
<line x1="494.5" y1="16.7" x2="494.5" y2="230" stroke="#666" stroke-width="0.9" stroke-dasharray="1 2.1"/>
<text transform="translate(497.3,13.1) rotate(-90)" class="pk">1448</text>
<line x1="516.6" y1="16.7" x2="516.6" y2="230" stroke="#666" stroke-width="0.9" stroke-dasharray="1 2.1"/>
<text transform="translate(520.2,13.6) rotate(-90)" class="pk">1331</text>
<line x1="535.5" y1="16.7" x2="535.5" y2="230" stroke="#666" stroke-width="0.9" stroke-dasharray="1 2.1"/>
<text transform="translate(538.3,14.2) rotate(-90)" class="pk">1234</text>
<line x1="604.0" y1="16.7" x2="604.0" y2="230" stroke="#666" stroke-width="0.9" stroke-dasharray="1 2.1"/>
<text transform="translate(607.0,15.0) rotate(-90)" class="pk">889</text>
<g clip-path="url(#cr)">
<path d="M392.00,61.20 C393.83,61.70 395.54,62.04 397.50,62.70 C399.83,63.48 402.58,64.38 405.00,65.70 C407.59,67.11 409.98,69.36 412.50,71.00 C414.94,72.59 417.26,74.07 419.90,75.40 C422.71,76.82 426.19,79.15 428.90,79.20 C431.09,79.24 432.94,77.87 434.90,76.90 C436.95,75.89 439.19,74.91 440.90,73.20 C442.83,71.27 444.38,68.44 445.60,65.60 C446.95,62.45 447.49,58.72 448.40,55.00 C449.40,50.90 450.45,46.26 451.30,42.00 C452.11,37.93 452.59,33.77 453.40,30.00 C454.14,26.58 454.76,21.52 455.90,20.30 C456.35,19.82 456.93,19.57 457.40,19.80 C458.55,20.37 459.51,25.52 460.40,28.50 C461.32,31.58 461.99,35.08 462.80,38.00 C463.50,40.52 464.14,42.81 464.90,45.00 C465.59,46.99 466.19,50.43 467.10,50.60 C467.80,50.73 468.57,48.60 469.50,48.00 C470.38,47.43 471.75,47.65 472.50,47.00 C473.27,46.33 473.59,45.31 474.00,44.00 C474.68,41.84 474.68,37.23 475.30,35.00 C475.69,33.60 476.20,31.71 476.70,31.70 C477.20,31.69 477.85,33.61 478.30,35.00 C478.99,37.14 478.96,40.97 479.80,43.50 C480.54,45.73 481.83,47.54 482.80,49.50 C483.73,51.37 484.49,53.69 485.50,55.00 C486.21,55.93 486.94,57.01 487.80,57.00 C488.93,56.99 490.40,54.64 491.70,53.50 C492.97,52.38 494.10,50.44 495.50,50.20 C496.87,49.97 498.48,51.84 500.00,52.00 C501.48,52.15 503.01,51.09 504.50,51.20 C506.01,51.31 507.52,52.12 509.00,52.70 C510.49,53.29 512.17,55.01 513.40,54.70 C514.64,54.39 515.33,50.93 516.40,50.80 C517.35,50.69 518.23,52.57 519.40,53.20 C520.70,53.90 522.43,54.82 523.90,54.70 C525.43,54.57 526.96,53.03 528.40,52.30 C529.71,51.64 531.01,51.35 532.20,50.50 C533.53,49.55 534.73,46.71 535.90,46.70 C536.95,46.69 537.80,49.24 538.90,49.70 C539.83,50.08 540.93,49.47 541.90,49.70 C542.93,49.94 543.70,50.76 544.90,51.20 C546.53,51.80 548.83,51.93 550.90,52.70 C553.31,53.60 556.01,56.29 558.40,56.50 C560.45,56.68 562.31,54.83 564.30,54.70 C566.28,54.57 568.33,55.16 570.30,55.70 C572.33,56.25 574.45,57.24 576.30,58.00 C577.92,58.67 579.29,59.77 580.80,60.00 C582.20,60.21 583.33,59.60 585.00,59.50 C587.43,59.36 591.00,59.45 594.00,59.50 C597.00,59.55 600.53,59.87 603.00,59.80 C604.73,59.75 605.74,59.60 607.40,59.40 C609.57,59.14 612.55,58.73 614.90,58.30 C617.02,57.92 618.71,57.54 620.90,57.00 C623.58,56.33 626.98,55.34 629.80,54.50 C632.39,53.74 634.70,52.73 637.20,52.20 C639.67,51.67 642.20,51.38 644.70,51.30 C647.17,51.22 649.63,51.50 652.10,51.70 C654.59,51.90 657.12,52.05 659.60,52.50 C662.09,52.95 664.53,53.77 667.00,54.40 C669.47,55.03 672.05,55.66 674.40,56.30 C676.56,56.89 679.04,57.46 680.60,58.10 C681.61,58.52 682.20,58.97 683.00,59.40" fill="none" stroke="#6c6cff" stroke-width="1.00" stroke-opacity="0.25" stroke-linejoin="round"/><path d="M392.00,61.20 C393.83,61.70 395.54,62.04 397.50,62.70 C399.83,63.48 402.58,64.38 405.00,65.70 C407.59,67.11 409.98,69.36 412.50,71.00 C414.94,72.59 417.26,74.07 419.90,75.40 C422.71,76.82 426.19,79.15 428.90,79.20 C431.09,79.24 432.94,77.87 434.90,76.90 C436.95,75.89 439.19,74.91 440.90,73.20 C442.83,71.27 444.38,68.44 445.60,65.60 C446.95,62.45 447.49,58.72 448.40,55.00 C449.40,50.90 450.45,46.26 451.30,42.00 C452.11,37.93 452.59,33.77 453.40,30.00 C454.14,26.58 454.76,21.52 455.90,20.30 C456.35,19.82 456.93,19.57 457.40,19.80 C458.55,20.37 459.51,25.52 460.40,28.50 C461.32,31.58 461.99,35.08 462.80,38.00 C463.50,40.52 464.14,42.81 464.90,45.00 C465.59,46.99 466.19,50.43 467.10,50.60 C467.80,50.73 468.57,48.60 469.50,48.00 C470.38,47.43 471.75,47.65 472.50,47.00 C473.27,46.33 473.59,45.31 474.00,44.00 C474.68,41.84 474.68,37.23 475.30,35.00 C475.69,33.60 476.20,31.71 476.70,31.70 C477.20,31.69 477.85,33.61 478.30,35.00 C478.99,37.14 478.96,40.97 479.80,43.50 C480.54,45.73 481.83,47.54 482.80,49.50 C483.73,51.37 484.49,53.69 485.50,55.00 C486.21,55.93 486.94,57.01 487.80,57.00 C488.93,56.99 490.40,54.64 491.70,53.50 C492.97,52.38 494.10,50.44 495.50,50.20 C496.87,49.97 498.48,51.84 500.00,52.00 C501.48,52.15 503.01,51.09 504.50,51.20 C506.01,51.31 507.52,52.12 509.00,52.70 C510.49,53.29 512.17,55.01 513.40,54.70 C514.64,54.39 515.33,50.93 516.40,50.80 C517.35,50.69 518.23,52.57 519.40,53.20 C520.70,53.90 522.43,54.82 523.90,54.70 C525.43,54.57 526.96,53.03 528.40,52.30 C529.71,51.64 531.01,51.35 532.20,50.50 C533.53,49.55 534.73,46.71 535.90,46.70 C536.95,46.69 537.80,49.24 538.90,49.70 C539.83,50.08 540.93,49.47 541.90,49.70 C542.93,49.94 543.70,50.76 544.90,51.20 C546.53,51.80 548.83,51.93 550.90,52.70 C553.31,53.60 556.01,56.29 558.40,56.50 C560.45,56.68 562.31,54.83 564.30,54.70 C566.28,54.57 568.33,55.16 570.30,55.70 C572.33,56.25 574.45,57.24 576.30,58.00 C577.92,58.67 579.29,59.77 580.80,60.00 C582.20,60.21 583.33,59.60 585.00,59.50 C587.43,59.36 591.00,59.45 594.00,59.50 C597.00,59.55 600.53,59.87 603.00,59.80 C604.73,59.75 605.74,59.60 607.40,59.40 C609.57,59.14 612.55,58.73 614.90,58.30 C617.02,57.92 618.71,57.54 620.90,57.00 C623.58,56.33 626.98,55.34 629.80,54.50 C632.39,53.74 634.70,52.73 637.20,52.20 C639.67,51.67 642.20,51.38 644.70,51.30 C647.17,51.22 649.63,51.50 652.10,51.70 C654.59,51.90 657.12,52.05 659.60,52.50 C662.09,52.95 664.53,53.77 667.00,54.40 C669.47,55.03 672.05,55.66 674.40,56.30 C676.56,56.89 679.04,57.46 680.60,58.10 C681.61,58.52 682.20,58.97 683.00,59.40" fill="none" stroke="#6c6cff" stroke-width="1.00" stroke-dasharray="1.5 1.2" stroke-linejoin="round"/>
<path d="M392.00,91.70 C393.83,92.97 395.55,94.05 397.50,95.50 C399.84,97.24 402.53,99.41 405.00,101.50 C407.53,103.64 410.00,106.00 412.50,108.20 C414.97,110.37 417.64,113.14 419.90,114.60 C421.51,115.64 422.93,116.27 424.40,116.70 C425.69,117.08 426.99,117.46 428.20,117.20 C429.49,116.92 430.61,115.72 431.90,114.90 C433.33,113.99 435.08,113.27 436.40,112.00 C437.85,110.60 439.11,108.65 440.10,106.70 C441.13,104.66 441.68,102.38 442.40,100.00 C443.20,97.35 443.86,94.08 444.60,91.50 C445.23,89.32 445.80,87.57 446.50,85.50 C447.26,83.25 448.20,80.96 449.00,78.50 C449.87,75.82 450.62,72.78 451.50,70.00 C452.36,67.28 452.98,62.43 454.20,62.00 C454.92,61.75 455.88,62.74 456.70,63.60 C458.01,64.97 459.14,68.15 460.50,70.20 C461.78,72.13 463.13,75.35 464.60,75.60 C465.83,75.81 467.35,74.22 468.50,73.00 C469.89,71.52 470.84,68.95 472.00,67.00 C473.11,65.12 473.99,61.70 475.30,61.50 C476.54,61.31 478.06,64.21 479.60,65.30 C481.12,66.37 482.96,66.98 484.50,68.00 C486.02,69.01 487.54,71.48 488.80,71.40 C489.90,71.33 490.75,69.47 491.70,68.40 C492.72,67.25 493.38,65.18 494.70,64.70 C496.10,64.18 498.17,65.62 500.00,65.70 C501.93,65.78 504.01,65.02 506.00,65.10 C508.01,65.18 510.20,66.50 512.00,66.20 C513.64,65.92 514.77,63.94 516.40,63.70 C518.20,63.44 520.43,65.28 522.40,65.10 C524.43,64.92 526.60,63.54 528.40,62.50 C530.07,61.54 531.44,60.12 532.90,59.20 C534.17,58.40 535.45,57.15 536.60,57.20 C537.67,57.25 538.58,59.14 539.60,59.20 C540.58,59.26 541.55,57.68 542.60,57.70 C543.80,57.72 545.03,59.45 546.40,59.80 C547.79,60.16 549.48,59.32 550.90,59.80 C552.49,60.33 553.70,62.45 555.40,63.20 C557.15,63.97 559.50,64.53 561.30,64.30 C562.94,64.09 564.15,62.57 565.80,62.20 C567.62,61.80 569.96,62.44 571.80,62.20 C573.42,61.99 574.80,61.00 576.30,61.00 C577.80,61.00 579.34,61.70 580.80,62.20 C582.24,62.70 583.36,63.54 585.00,64.00 C587.11,64.60 589.91,64.48 592.50,65.10 C595.39,65.79 599.45,68.26 601.50,68.10 C602.62,68.01 602.95,67.00 604.00,66.80 C605.52,66.51 607.96,67.20 609.90,67.40 C611.79,67.60 613.57,68.23 615.50,68.00 C617.68,67.74 619.97,66.40 622.30,65.60 C624.74,64.76 627.30,63.84 629.80,63.10 C632.26,62.37 634.71,61.65 637.20,61.20 C639.68,60.75 642.20,60.53 644.70,60.40 C647.17,60.27 649.63,60.47 652.10,60.40 C654.59,60.33 657.11,60.00 659.60,60.00 C662.07,60.00 664.78,60.23 667.00,60.40 C668.83,60.54 670.64,61.00 672.00,60.90 C672.95,60.83 673.55,60.31 674.40,60.30 C675.37,60.29 676.47,60.73 677.50,61.00 C678.54,61.27 679.65,62.00 680.60,61.90 C681.47,61.81 682.20,61.03 683.00,60.60" fill="none" stroke="#2b2bff" stroke-width="1.30" stroke-linejoin="round" stroke-linecap="round"/>
<path d="M392.00,124.20 C393.83,125.53 395.62,126.51 397.50,128.20 C399.92,130.37 402.50,133.75 405.00,136.50 C407.50,139.25 409.95,142.16 412.50,144.70 C414.92,147.11 417.27,149.76 419.90,151.40 C422.27,152.88 425.07,154.54 427.40,154.40 C429.54,154.27 431.57,152.74 433.40,151.10 C435.66,149.07 437.75,145.70 439.40,142.50 C441.18,139.05 442.31,134.67 443.50,131.00 C444.57,127.70 445.32,124.85 446.30,121.50 C447.40,117.73 448.66,113.34 449.80,109.50 C450.86,105.93 451.88,102.03 452.90,99.20 C453.64,97.15 454.20,94.19 455.10,94.00 C455.77,93.86 456.70,95.12 457.40,96.20 C458.57,98.00 459.20,101.72 460.40,104.50 C461.67,107.45 463.05,112.79 464.90,113.40 C466.20,113.83 468.04,112.40 469.30,111.20 C470.88,109.70 471.91,106.60 473.10,104.50 C474.16,102.63 474.93,99.35 476.10,99.20 C477.19,99.06 478.47,101.78 479.80,103.00 C481.19,104.28 482.80,105.52 484.30,106.70 C485.76,107.85 487.35,110.14 488.70,110.00 C490.08,109.86 491.12,106.68 492.50,105.70 C493.65,104.88 494.96,104.21 496.20,104.20 C497.46,104.19 498.57,105.55 500.00,105.70 C501.75,105.89 504.00,104.77 506.00,104.70 C508.00,104.63 510.21,105.69 512.00,105.30 C513.65,104.94 514.83,102.84 516.40,102.70 C518.05,102.56 519.94,104.71 521.70,104.70 C523.44,104.69 525.22,103.30 526.90,102.70 C528.45,102.14 529.98,102.02 531.40,101.20 C533.00,100.27 534.29,97.62 535.90,97.20 C537.31,96.83 538.90,98.15 540.40,98.20 C541.90,98.25 543.21,97.50 544.90,97.50 C547.08,97.50 549.92,98.09 552.40,98.70 C554.93,99.32 557.54,101.11 559.90,101.20 C561.97,101.28 563.96,100.08 565.80,99.70 C567.39,99.37 568.75,98.69 570.30,99.00 C572.23,99.39 574.42,101.64 576.30,102.70 C577.89,103.59 579.28,104.63 580.80,105.00 C582.18,105.33 583.34,105.00 585.00,105.00 C587.44,105.00 591.00,105.00 594.00,105.00 C597.00,105.00 600.00,105.13 603.00,105.00 C606.00,104.87 609.03,104.70 612.00,104.20 C614.99,103.70 617.93,102.75 620.90,102.00 C623.89,101.25 626.90,100.50 629.90,99.70 C632.90,98.90 635.88,97.77 638.90,97.20 C641.88,96.64 644.90,96.38 647.90,96.30 C650.90,96.22 653.91,96.45 656.90,96.70 C659.88,96.95 662.83,97.42 665.80,97.80 C668.79,98.18 671.88,98.54 674.80,99.00 C677.60,99.44 680.27,100.00 683.00,100.50" fill="none" stroke="#ff7272" stroke-width="1.00" stroke-opacity="0.25" stroke-linejoin="round"/><path d="M392.00,124.20 C393.83,125.53 395.62,126.51 397.50,128.20 C399.92,130.37 402.50,133.75 405.00,136.50 C407.50,139.25 409.95,142.16 412.50,144.70 C414.92,147.11 417.27,149.76 419.90,151.40 C422.27,152.88 425.07,154.54 427.40,154.40 C429.54,154.27 431.57,152.74 433.40,151.10 C435.66,149.07 437.75,145.70 439.40,142.50 C441.18,139.05 442.31,134.67 443.50,131.00 C444.57,127.70 445.32,124.85 446.30,121.50 C447.40,117.73 448.66,113.34 449.80,109.50 C450.86,105.93 451.88,102.03 452.90,99.20 C453.64,97.15 454.20,94.19 455.10,94.00 C455.77,93.86 456.70,95.12 457.40,96.20 C458.57,98.00 459.20,101.72 460.40,104.50 C461.67,107.45 463.05,112.79 464.90,113.40 C466.20,113.83 468.04,112.40 469.30,111.20 C470.88,109.70 471.91,106.60 473.10,104.50 C474.16,102.63 474.93,99.35 476.10,99.20 C477.19,99.06 478.47,101.78 479.80,103.00 C481.19,104.28 482.80,105.52 484.30,106.70 C485.76,107.85 487.35,110.14 488.70,110.00 C490.08,109.86 491.12,106.68 492.50,105.70 C493.65,104.88 494.96,104.21 496.20,104.20 C497.46,104.19 498.57,105.55 500.00,105.70 C501.75,105.89 504.00,104.77 506.00,104.70 C508.00,104.63 510.21,105.69 512.00,105.30 C513.65,104.94 514.83,102.84 516.40,102.70 C518.05,102.56 519.94,104.71 521.70,104.70 C523.44,104.69 525.22,103.30 526.90,102.70 C528.45,102.14 529.98,102.02 531.40,101.20 C533.00,100.27 534.29,97.62 535.90,97.20 C537.31,96.83 538.90,98.15 540.40,98.20 C541.90,98.25 543.21,97.50 544.90,97.50 C547.08,97.50 549.92,98.09 552.40,98.70 C554.93,99.32 557.54,101.11 559.90,101.20 C561.97,101.28 563.96,100.08 565.80,99.70 C567.39,99.37 568.75,98.69 570.30,99.00 C572.23,99.39 574.42,101.64 576.30,102.70 C577.89,103.59 579.28,104.63 580.80,105.00 C582.18,105.33 583.34,105.00 585.00,105.00 C587.44,105.00 591.00,105.00 594.00,105.00 C597.00,105.00 600.00,105.13 603.00,105.00 C606.00,104.87 609.03,104.70 612.00,104.20 C614.99,103.70 617.93,102.75 620.90,102.00 C623.89,101.25 626.90,100.50 629.90,99.70 C632.90,98.90 635.88,97.77 638.90,97.20 C641.88,96.64 644.90,96.38 647.90,96.30 C650.90,96.22 653.91,96.45 656.90,96.70 C659.88,96.95 662.83,97.42 665.80,97.80 C668.79,98.18 671.88,98.54 674.80,99.00 C677.60,99.44 680.27,100.00 683.00,100.50" fill="none" stroke="#ff7272" stroke-width="1.00" stroke-dasharray="1.5 1.2" stroke-linejoin="round"/>
<path d="M392.00,138.00 C393.83,139.50 395.57,140.76 397.50,142.50 C399.85,144.62 402.83,147.72 405.00,149.90 C406.70,151.61 407.83,153.07 409.50,154.50 C411.27,156.02 413.31,157.22 415.40,158.70 C417.75,160.37 420.61,162.39 422.90,164.00 C424.82,165.35 426.65,167.59 428.20,167.70 C429.31,167.78 429.97,166.64 431.20,166.20 C432.96,165.57 436.12,165.75 437.90,164.70 C439.50,163.75 440.61,162.09 441.60,160.50 C442.62,158.86 443.30,157.04 443.90,155.00 C444.60,152.62 444.78,149.66 445.30,147.00 C445.82,144.33 446.39,141.70 447.00,139.00 C447.63,136.21 448.26,133.60 449.00,130.50 C449.90,126.73 450.90,121.54 452.00,118.00 C452.84,115.30 453.59,111.18 454.70,111.00 C455.60,110.86 456.80,113.26 457.80,114.80 C459.09,116.80 460.06,120.32 461.50,122.20 C462.61,123.65 463.99,125.44 465.20,125.50 C466.28,125.56 467.40,124.26 468.40,123.20 C469.71,121.81 470.86,119.53 472.00,117.50 C473.23,115.32 474.31,110.53 475.50,110.50 C476.64,110.48 477.47,115.31 479.00,116.80 C480.33,118.09 482.25,118.25 483.80,119.30 C485.49,120.44 487.31,123.61 488.70,123.50 C489.87,123.41 490.80,121.24 491.70,120.00 C492.60,118.77 492.88,116.61 494.10,116.10 C495.51,115.52 498.02,117.48 500.00,117.50 C501.99,117.52 504.00,116.22 506.00,116.20 C508.00,116.18 510.22,117.76 512.00,117.40 C513.66,117.06 514.69,114.67 516.40,114.40 C518.42,114.08 521.42,116.62 523.50,116.50 C525.19,116.41 526.65,115.18 528.00,114.60 C529.10,114.13 530.11,113.94 531.00,113.30 C531.96,112.61 532.72,111.48 533.50,110.50 C534.29,109.51 534.78,107.54 535.70,107.40 C536.75,107.24 538.39,110.41 539.60,110.40 C540.67,110.39 541.41,108.12 542.60,108.00 C544.08,107.85 546.35,110.46 547.90,110.70 C549.01,110.87 549.78,109.97 550.90,110.20 C552.61,110.55 555.00,113.11 556.90,114.00 C558.43,114.71 559.87,115.59 561.30,115.40 C562.84,115.20 564.11,112.95 565.80,112.50 C567.59,112.02 569.97,113.10 571.80,112.80 C573.44,112.53 574.78,111.17 576.30,111.00 C577.78,110.83 579.39,111.12 580.80,111.70 C582.30,112.31 583.30,114.03 585.00,114.70 C587.06,115.51 589.96,114.98 592.50,115.70 C595.35,116.51 599.22,119.83 601.20,119.60 C602.34,119.47 602.54,118.02 603.70,117.70 C605.59,117.19 609.22,118.99 612.00,118.70 C614.95,118.40 617.91,116.62 620.90,115.70 C623.88,114.78 626.79,114.08 629.90,113.20 C633.27,112.25 637.00,110.81 640.40,110.20 C643.49,109.64 646.40,109.57 649.40,109.50 C652.40,109.43 655.41,109.60 658.40,109.80 C661.38,110.00 664.46,110.37 667.30,110.70 C669.91,111.01 672.24,111.40 674.80,111.70 C677.47,112.01 680.27,112.23 683.00,112.50" fill="none" stroke="#ff2b2b" stroke-width="1.30" stroke-linejoin="round" stroke-linecap="round"/>
<path d="M392.00,181.20 C393.83,182.43 395.55,183.48 397.50,184.90 C399.84,186.60 402.56,188.65 405.00,190.80 C407.57,193.06 409.99,195.81 412.50,198.20 C414.95,200.54 417.29,203.21 419.90,205.00 C422.28,206.63 425.01,208.57 427.40,208.70 C429.49,208.81 431.55,207.77 433.40,206.50 C435.61,204.99 437.90,202.23 439.40,199.70 C440.88,197.22 441.43,194.35 442.40,191.50 C443.44,188.46 444.35,185.35 445.40,182.00 C446.57,178.24 448.01,173.93 449.10,170.00 C450.13,166.27 450.98,162.25 451.80,159.00 C452.45,156.40 452.91,153.78 453.60,152.00 C454.06,150.82 454.59,149.21 455.10,149.20 C455.62,149.19 456.25,150.85 456.70,152.00 C457.32,153.59 457.48,155.81 458.10,158.00 C458.87,160.71 460.13,164.35 461.10,167.00 C461.88,169.13 462.46,171.05 463.40,172.70 C464.23,174.16 465.31,176.47 466.30,176.50 C467.27,176.53 468.41,174.48 469.30,173.00 C470.48,171.04 471.30,168.00 472.30,165.50 C473.30,163.00 474.25,158.04 475.30,158.00 C476.26,157.96 477.10,162.05 478.30,164.00 C479.57,166.06 481.18,168.35 482.80,170.00 C484.21,171.44 486.00,173.15 487.30,173.50 C488.11,173.72 488.78,173.67 489.50,173.20 C490.78,172.37 491.72,167.69 493.20,167.20 C494.33,166.83 495.56,168.51 497.00,168.70 C498.75,168.93 500.80,168.04 503.00,168.00 C505.69,167.95 509.60,169.24 512.00,168.70 C513.80,168.30 514.77,166.42 516.40,166.20 C518.20,165.95 520.31,167.81 522.40,167.70 C524.78,167.58 527.63,166.27 529.90,165.00 C532.13,163.75 534.06,160.15 535.90,160.20 C537.53,160.24 538.77,163.58 540.40,164.20 C541.81,164.73 543.23,163.98 544.90,164.20 C547.10,164.49 549.89,165.62 552.40,166.20 C554.89,166.78 557.57,167.85 559.90,167.70 C562.00,167.56 563.80,165.94 565.80,165.70 C567.77,165.46 569.81,165.95 571.80,166.20 C573.81,166.45 575.72,166.77 577.80,167.20 C580.10,167.68 582.56,168.75 585.00,169.00 C587.46,169.25 589.89,168.54 592.50,168.70 C595.37,168.88 598.50,170.12 601.50,170.20 C604.47,170.28 607.45,169.80 610.40,169.20 C613.42,168.58 616.39,167.34 619.40,166.50 C622.39,165.67 625.39,164.90 628.40,164.20 C631.39,163.50 634.39,162.80 637.40,162.30 C640.39,161.80 643.39,161.38 646.40,161.20 C649.39,161.02 652.41,161.07 655.40,161.20 C658.38,161.33 661.33,161.62 664.30,162.00 C667.30,162.38 670.65,162.70 673.30,163.50 C675.55,164.18 677.54,166.21 679.30,166.20 C680.68,166.19 681.77,165.07 683.00,164.50" fill="none" stroke="#5a5a5a" stroke-width="1.00" stroke-opacity="0.25" stroke-linejoin="round"/><path d="M392.00,181.20 C393.83,182.43 395.55,183.48 397.50,184.90 C399.84,186.60 402.56,188.65 405.00,190.80 C407.57,193.06 409.99,195.81 412.50,198.20 C414.95,200.54 417.29,203.21 419.90,205.00 C422.28,206.63 425.01,208.57 427.40,208.70 C429.49,208.81 431.55,207.77 433.40,206.50 C435.61,204.99 437.90,202.23 439.40,199.70 C440.88,197.22 441.43,194.35 442.40,191.50 C443.44,188.46 444.35,185.35 445.40,182.00 C446.57,178.24 448.01,173.93 449.10,170.00 C450.13,166.27 450.98,162.25 451.80,159.00 C452.45,156.40 452.91,153.78 453.60,152.00 C454.06,150.82 454.59,149.21 455.10,149.20 C455.62,149.19 456.25,150.85 456.70,152.00 C457.32,153.59 457.48,155.81 458.10,158.00 C458.87,160.71 460.13,164.35 461.10,167.00 C461.88,169.13 462.46,171.05 463.40,172.70 C464.23,174.16 465.31,176.47 466.30,176.50 C467.27,176.53 468.41,174.48 469.30,173.00 C470.48,171.04 471.30,168.00 472.30,165.50 C473.30,163.00 474.25,158.04 475.30,158.00 C476.26,157.96 477.10,162.05 478.30,164.00 C479.57,166.06 481.18,168.35 482.80,170.00 C484.21,171.44 486.00,173.15 487.30,173.50 C488.11,173.72 488.78,173.67 489.50,173.20 C490.78,172.37 491.72,167.69 493.20,167.20 C494.33,166.83 495.56,168.51 497.00,168.70 C498.75,168.93 500.80,168.04 503.00,168.00 C505.69,167.95 509.60,169.24 512.00,168.70 C513.80,168.30 514.77,166.42 516.40,166.20 C518.20,165.95 520.31,167.81 522.40,167.70 C524.78,167.58 527.63,166.27 529.90,165.00 C532.13,163.75 534.06,160.15 535.90,160.20 C537.53,160.24 538.77,163.58 540.40,164.20 C541.81,164.73 543.23,163.98 544.90,164.20 C547.10,164.49 549.89,165.62 552.40,166.20 C554.89,166.78 557.57,167.85 559.90,167.70 C562.00,167.56 563.80,165.94 565.80,165.70 C567.77,165.46 569.81,165.95 571.80,166.20 C573.81,166.45 575.72,166.77 577.80,167.20 C580.10,167.68 582.56,168.75 585.00,169.00 C587.46,169.25 589.89,168.54 592.50,168.70 C595.37,168.88 598.50,170.12 601.50,170.20 C604.47,170.28 607.45,169.80 610.40,169.20 C613.42,168.58 616.39,167.34 619.40,166.50 C622.39,165.67 625.39,164.90 628.40,164.20 C631.39,163.50 634.39,162.80 637.40,162.30 C640.39,161.80 643.39,161.38 646.40,161.20 C649.39,161.02 652.41,161.07 655.40,161.20 C658.38,161.33 661.33,161.62 664.30,162.00 C667.30,162.38 670.65,162.70 673.30,163.50 C675.55,164.18 677.54,166.21 679.30,166.20 C680.68,166.19 681.77,165.07 683.00,164.50" fill="none" stroke="#5a5a5a" stroke-width="1.00" stroke-dasharray="1.5 1.2" stroke-linejoin="round"/>
<path d="M392.00,204.20 C393.83,205.47 395.57,206.48 397.50,208.00 C399.86,209.86 402.46,212.59 405.00,214.70 C407.46,216.75 410.10,218.94 412.50,220.50 C414.50,221.80 416.48,222.56 418.30,223.60 C419.96,224.56 421.36,225.73 423.00,226.50 C424.60,227.25 426.40,228.12 428.00,228.20 C429.45,228.27 430.85,227.64 432.20,227.20 C433.52,226.77 434.83,226.25 436.00,225.60 C437.12,224.98 438.06,224.36 439.10,223.40 C440.45,222.15 442.01,220.14 443.20,218.50 C444.28,217.01 445.09,215.56 446.00,214.00 C446.96,212.37 447.89,210.63 448.80,208.90 C449.73,207.13 450.58,205.28 451.50,203.50 C452.41,201.74 453.29,199.98 454.30,198.30 C455.29,196.64 456.32,194.89 457.50,193.50 C458.57,192.23 459.76,190.33 461.00,190.20 C462.20,190.07 463.43,192.20 464.80,192.50 C466.17,192.80 467.86,192.53 469.20,192.00 C470.57,191.45 471.76,190.19 472.90,189.20 C473.99,188.25 474.68,186.61 475.90,186.20 C477.16,185.77 478.97,186.21 480.40,186.80 C481.99,187.45 483.54,189.07 484.90,190.20 C486.11,191.20 487.12,193.25 488.20,193.20 C489.35,193.15 490.52,190.75 491.60,189.50 C492.65,188.28 493.32,186.82 494.60,185.80 C496.02,184.67 498.03,183.75 499.90,183.20 C501.79,182.64 503.90,182.78 505.90,182.50 C507.90,182.22 510.08,182.02 511.90,181.50 C513.51,181.04 514.80,180.17 516.30,179.70 C517.77,179.24 519.31,178.64 520.80,178.70 C522.31,178.76 523.81,180.17 525.30,180.10 C526.81,180.03 528.24,179.06 529.80,178.20 C531.71,177.14 534.53,174.58 535.80,174.00 C536.32,173.76 536.54,173.60 537.00,173.70 C537.81,173.87 539.02,176.05 540.00,176.00 C541.02,175.95 541.93,173.42 543.00,173.20 C543.94,173.01 544.98,174.36 546.00,174.30 C547.14,174.23 548.34,172.46 549.50,172.50 C550.68,172.54 551.75,174.38 553.00,174.60 C554.25,174.82 555.78,174.18 557.00,173.80 C558.09,173.46 558.98,172.75 560.00,172.50 C560.98,172.26 562.14,172.85 563.00,172.30 C564.19,171.55 564.89,167.29 565.80,167.30 C566.72,167.31 567.55,171.27 568.50,172.50 C569.14,173.33 569.75,174.17 570.50,174.30 C571.25,174.43 572.11,173.41 573.00,173.30 C573.94,173.18 574.88,173.59 576.00,173.70 C577.41,173.84 579.25,173.90 580.80,174.00 C582.25,174.10 583.51,173.92 585.00,174.30 C586.86,174.77 589.03,175.96 591.00,177.00 C593.04,178.08 594.79,179.96 597.00,180.70 C599.28,181.46 602.02,180.91 604.50,181.40 C607.03,181.90 609.37,183.53 612.00,183.70 C614.82,183.88 617.94,182.83 620.90,182.20 C623.90,181.56 626.90,180.65 629.90,179.90 C632.90,179.15 635.89,178.32 638.90,177.70 C641.89,177.09 644.90,176.63 647.90,176.20 C650.90,175.77 653.90,175.35 656.90,175.10 C659.87,174.85 662.83,174.60 665.80,174.70 C668.80,174.80 671.87,175.31 674.80,175.70 C677.60,176.08 680.27,176.57 683.00,177.00" fill="none" stroke="#262626" stroke-width="1.20" stroke-linejoin="round" stroke-linecap="round"/>
</g>
<path d="M388,18.5 H682.5 V230.5 H392" fill="none" stroke="#2a2a2a" stroke-width="1.1"/>
<line x1="391.9" y1="18" x2="391.9" y2="231" stroke="#6a6a6a" stroke-width="1.6"/>
<line x1="388" y1="79.2" x2="392" y2="79.2" stroke="#2a2a2a" stroke-width="1"/>
<line x1="388" y1="139.4" x2="392" y2="139.4" stroke="#2a2a2a" stroke-width="1"/>
<line x1="388" y1="200.3" x2="392" y2="200.3" stroke="#2a2a2a" stroke-width="1"/>
<line x1="390" y1="48.7" x2="392" y2="48.7" stroke="#2a2a2a" stroke-width="1"/>
<line x1="390" y1="109.2" x2="392" y2="109.2" stroke="#2a2a2a" stroke-width="1"/>
<line x1="390" y1="170.0" x2="392" y2="170.0" stroke="#2a2a2a" stroke-width="1"/>
<line x1="391.8" y1="230.5" x2="391.8" y2="235.0" stroke="#2a2a2a" stroke-width="1"/>
<text transform="translate(391.80,244.6) scale(0.965,1)" text-anchor="middle" class="tk">2000</text>
<line x1="410.6" y1="230.5" x2="410.6" y2="233.0" stroke="#2a2a2a" stroke-width="1"/>
<line x1="429.3" y1="230.5" x2="429.3" y2="235.0" stroke="#2a2a2a" stroke-width="1"/>
<text transform="translate(429.34,244.6) scale(0.965,1)" text-anchor="middle" class="tk">1800</text>
<line x1="448.1" y1="230.5" x2="448.1" y2="233.0" stroke="#2a2a2a" stroke-width="1"/>
<line x1="466.9" y1="230.5" x2="466.9" y2="235.0" stroke="#2a2a2a" stroke-width="1"/>
<text transform="translate(466.88,244.6) scale(0.965,1)" text-anchor="middle" class="tk">1600</text>
<line x1="485.7" y1="230.5" x2="485.7" y2="233.0" stroke="#2a2a2a" stroke-width="1"/>
<line x1="504.4" y1="230.5" x2="504.4" y2="235.0" stroke="#2a2a2a" stroke-width="1"/>
<text transform="translate(504.43,244.6) scale(0.965,1)" text-anchor="middle" class="tk">1400</text>
<line x1="523.2" y1="230.5" x2="523.2" y2="233.0" stroke="#2a2a2a" stroke-width="1"/>
<line x1="542.0" y1="230.5" x2="542.0" y2="235.0" stroke="#2a2a2a" stroke-width="1"/>
<text transform="translate(541.97,244.6) scale(0.965,1)" text-anchor="middle" class="tk">1200</text>
<line x1="560.7" y1="230.5" x2="560.7" y2="233.0" stroke="#2a2a2a" stroke-width="1"/>
<line x1="579.5" y1="230.5" x2="579.5" y2="235.0" stroke="#2a2a2a" stroke-width="1"/>
<text transform="translate(579.51,244.6) scale(0.965,1)" text-anchor="middle" class="tk">1000</text>
<line x1="598.3" y1="230.5" x2="598.3" y2="233.0" stroke="#2a2a2a" stroke-width="1"/>
<line x1="617.1" y1="230.5" x2="617.1" y2="235.0" stroke="#2a2a2a" stroke-width="1"/>
<text transform="translate(617.05,244.6) scale(0.965,1)" text-anchor="middle" class="tk">800</text>
<line x1="635.8" y1="230.5" x2="635.8" y2="233.0" stroke="#2a2a2a" stroke-width="1"/>
<line x1="654.6" y1="230.5" x2="654.6" y2="235.0" stroke="#2a2a2a" stroke-width="1"/>
<text transform="translate(654.59,244.6) scale(0.965,1)" text-anchor="middle" class="tk">600</text>
<line x1="673.4" y1="230.5" x2="673.4" y2="233.0" stroke="#2a2a2a" stroke-width="1"/>
<text x="371.8" y="15.7" class="pl">(b)</text>
<text x="537.5" y="262.5" text-anchor="middle" class="ti">Wavenumber (cm<tspan dy="-4.2" font-size="7.5">-1</tspan><tspan dy="4.2" dx="0.7">)</tspan></text>
<text transform="translate(376.3,124) rotate(-90)" text-anchor="middle" class="ti">Absorbance (norm.)</text>
<line x1="608.4" y1="75.2" x2="620.8" y2="75.2" stroke="#6c6cff" stroke-width="1" stroke-dasharray="1.2 1.0"/>
<text x="623.0" y="77.2" class="lg">Hs15c_r_M1_hairside</text>
<line x1="608.4" y1="81.8" x2="620.8" y2="81.8" stroke="#2b2bff" stroke-width="1.2"/>
<text x="623.0" y="83.8" class="lg">Hs15c_v_M1_fleshside</text>
<line x1="607.2" y1="131.1" x2="620.0" y2="131.1" stroke="#ff7272" stroke-width="1" stroke-dasharray="1.2 1.0"/>
<text x="621.5" y="133.1" class="lg">Hs15b_v_M3_hairside</text>
<line x1="607.2" y1="137.6" x2="620.0" y2="137.6" stroke="#ff2b2b" stroke-width="1.2"/>
<text x="621.5" y="139.6" class="lg">Hs15b_r_M1_fleshside</text>
<line x1="606.2" y1="194.4" x2="618.9" y2="194.4" stroke="#5a5a5a" stroke-width="1" stroke-dasharray="1.2 1.0"/>
<text x="620.0" y="196.0" class="lg">Hs15a_v_M1_hairside</text>
<line x1="606.2" y1="200.8" x2="618.9" y2="200.8" stroke="#262626" stroke-width="1.0"/>
<text x="620.0" y="202.8" class="lg">Hs15a_r_M7_fleshside</text>
</svg></body></html>
